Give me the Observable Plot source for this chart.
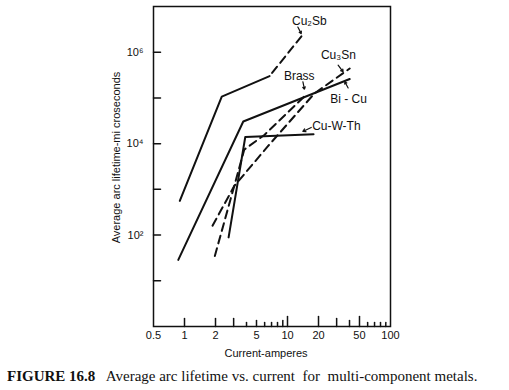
<!DOCTYPE html>
<html><head><meta charset="utf-8">
<script src="https://cdn.jsdelivr.net/npm/d3@7"></script>
<script src="https://cdn.jsdelivr.net/npm/@observablehq/plot@0.6"></script>
<style>
body{margin:0;background:#fff;}
#cap{font-family:"Liberation Serif","Times New Roman",serif;font-size:15px;white-space:pre;padding:5px 0 0 7px;line-height:18px;color:#111;}
</style></head><body>
<div id="chart"></div>
<div id="cap"><b>FIGURE 16.8</b>   Average arc lifetime vs. current  for  multi-component metals.</div>
<script>
// Series (current in amperes, lifetime in microseconds)
const cu2sbSolidX = [0.9, 2.3, 6.7];
const cu2sbSolidY = [560, 1.07e5, 3.0e5];
const cu2sbDashX = [6.7, 14.6];
const cu2sbDashY = [3.0e5, 2.7e6];
const biCuX = [0.87, 3.72, 40.2];
const biCuY = [28.7, 3.05e4, 2.59e5];
const cuWThX = [2.68, 3.89, 17.9];
const cuWThY = [89, 1.4e4, 1.6e4];
const cu3snX = [1.87, 3.04, 6.43, 18.3, 40.2];
const cu3snY = [160, 1180, 8700, 1.26e5, 4.4e5];
const brassX = [1.97, 3.04, 3.8, 6.0, 15];
const brassY = [35, 1180, 7400, 1.57e4, 1.15e5];

// Labels and pointer arrows
const labelNames = ["Cu₂Sb", "Brass", "Cu₃Sn", "Bi - Cu", "Cu-W-Th"];
const labelX = [16.3, 13.0, 31.2, 39.1, 29.8];
const labelY = [4.8e6, 3.0e5, 8.6e5, 9.5e4, 2.38e4];
const arrowX1 = [12.6, 14.1, 31.0, 38.8, 17.0];
const arrowY1 = [3.55e6, 2.26e5, 5.2e5, 1.65e5, 2.26e4];
const arrowX2 = [13.6, 14.6, 34.7, 36.0, 14.1];
const arrowY2 = [2.55e6, 1.55e5, 3.73e5, 2.26e5, 1.85e4];

// Ticks
const xLabelTicks = [0.5, 1, 2, 5, 10, 20, 50, 100];
const xTicksTall = [10, 20, 50];
const xTicksMid = [1, 2, 3, 30];
const xTicksShort = [5, 9, 40];
const xTicksMinor = [4, 6, 7, 8, 60, 70, 80, 90];
const yTicks = [1e1, 1e2, 1e3, 1e4, 1e5, 1e6];
const yLabelTicks = [1e2, 1e4, 1e6];
const supers = {2: "²", 4: "⁴", 6: "⁶"};

const pts = (xs, ys) => xs.map((x, i) => ({x, y: ys[i]}));
const labels = labelNames.map((t, i) => ({t, x: labelX[i], y: labelY[i]}));
const arrows = arrowX1.map((x1, i) => ({x1, y1: arrowY1[i], x2: arrowX2[i], y2: arrowY2[i]}));

// straight tick shape for vector marks
const tickShape = {draw(ctx, l) { ctx.moveTo(0, 0); ctx.lineTo(0, -l); }};
const xTick = (vals, len) => Plot.vector(vals, {x: d => d, frameAnchor: "bottom", length: len, rotate: 0,
  anchor: "start", shape: tickShape, stroke: "#111", strokeWidth: 1.5});

const dash = "8,5";
const chart = Plot.plot({
  width: 509, height: 362,
  marginLeft: 153, marginRight: 119, marginTop: 6, marginBottom: 36,
  style: {fontFamily: "'Liberation Sans', Arial, sans-serif", background: "white", color: "#111"},
  x: {type: "log", domain: [0.5, 100], axis: null},
  y: {type: "log", domain: [1, 1e7], axis: null},
  marks: [
    Plot.frame({stroke: "#111", strokeWidth: 1.5}),
    xTick(xTicksTall, 10),
    xTick(xTicksMid, 8),
    xTick(xTicksShort, 6),
    xTick(xTicksMinor, 4),
    Plot.vector(yTicks, {y: d => d, frameAnchor: "left", length: 7, rotate: 90, anchor: "start",
      shape: tickShape, stroke: "#111", strokeWidth: 1.5}),
    Plot.text(xLabelTicks, {x: d => d, frameAnchor: "bottom", dy: 9, lineAnchor: "middle", fontSize: 11,
      text: d => d === 0.5 ? "0.5" : String(d)}),
    Plot.text(yLabelTicks, {y: d => d, frameAnchor: "left", dx: -10, textAnchor: "end", fontSize: 11,
      text: d => "10" + supers[Math.round(Math.log10(d))]}),
    Plot.text(["Average arc lifetime-mi croseconds"], {frameAnchor: "left", textAnchor: "middle", rotate: -90, dx: -37, dy: -9, fontSize: 11}),
    Plot.text(["Current-amperes"], {frameAnchor: "bottom", textAnchor: "middle", dx: -6, dy: 27, fontSize: 11, lineAnchor: "middle"}),
    Plot.line(pts(cu2sbSolidX, cu2sbSolidY), {x: "x", y: "y", stroke: "#111", strokeWidth: 2}),
    Plot.line(pts(cu2sbDashX, cu2sbDashY), {x: "x", y: "y", stroke: "#111", strokeWidth: 2, strokeDasharray: dash, strokeDashoffset: 9}),
    Plot.line(pts(biCuX, biCuY), {x: "x", y: "y", stroke: "#111", strokeWidth: 2}),
    Plot.line(pts(cuWThX, cuWThY), {x: "x", y: "y", stroke: "#111", strokeWidth: 2}),
    Plot.line(pts(cu3snX, cu3snY), {x: "x", y: "y", stroke: "#111", strokeWidth: 2, strokeDasharray: dash}),
    Plot.line(pts(brassX, brassY), {x: "x", y: "y", stroke: "#111", strokeWidth: 2, strokeDasharray: dash}),
    Plot.arrow(arrows, {x1: "x1", y1: "y1", x2: "x2", y2: "y2", stroke: "#111", strokeWidth: 1.2, headLength: 4}),
    Plot.text(labels, {x: "x", y: "y", text: "t", fontSize: 12, fill: "#111"})
  ]
});
document.getElementById("chart").appendChild(chart);
</script></body></html>
